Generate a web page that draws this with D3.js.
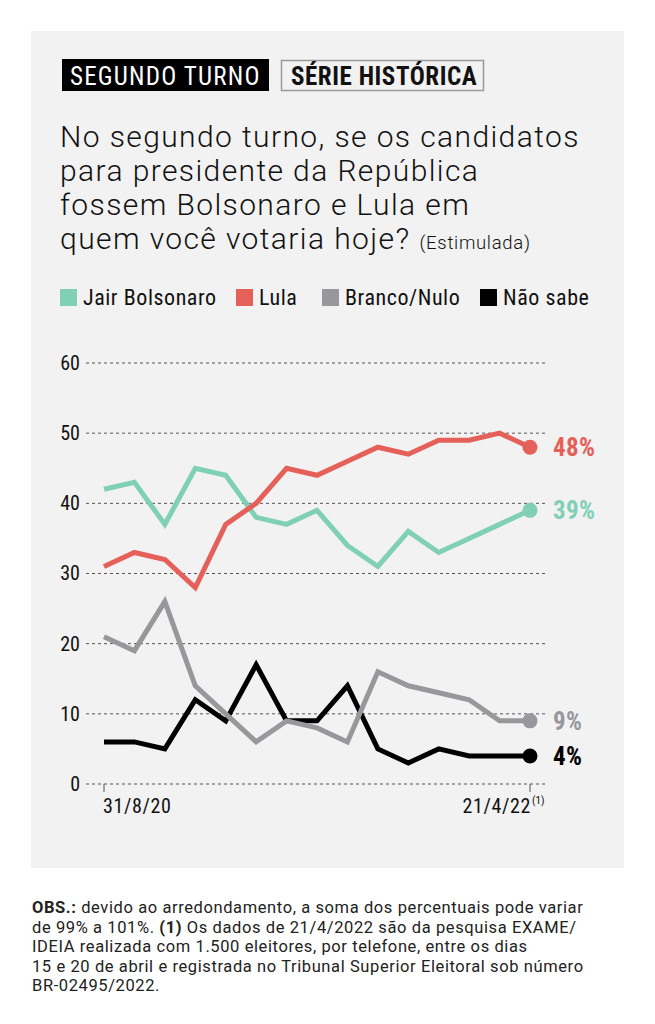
<!DOCTYPE html>
<html><head><meta charset="utf-8">
<script src="https://cdn.jsdelivr.net/npm/d3@7"></script>
<style>
html,body{margin:0;padding:0;background:#fff;}
svg{display:block;}
.cond{font-family:"Liberation Sans Narrow","Roboto Condensed","DejaVu Sans Condensed",sans-serif;}
.reg{font-family:Roboto,"Noto Sans",sans-serif;}
</style></head>
<body>
<script>
const dates = ["31/8/20","","","","","","","","","","","","","","21/4/22"];
const seriesNames = ["Jair Bolsonaro","Lula","Branco/Nulo","Não sabe"];
const bolsonaro = [42,43,37,45,44,38,37,39,34,31,36,33,35,37,39];
const lula      = [31,33,32,28,37,40,45,44,46,48,47,49,49,50,48];
const branco    = [21,19,26,14,10,6,9,8,6,16,14,13,12,9,9];
const naoSabe   = [6,6,5,12,9,17,9,9,14,5,3,5,4,4,4];
const colors = ["#80d0b5","#e6605a","#98989c","#000000"];
const yTicks = [0,10,20,30,40,50,60];
const titleLines = ["No segundo turno, se os candidatos","para presidente da República","fossem Bolsonaro e Lula em","quem você votaria hoje?"];
const footLines = [
 [["OBS.:",true],[" devido ao arredondamento, a soma dos percentuais pode variar",false]],
 [["de 99% a 101%. ",false],["(1)",true],[" Os dados de 21/4/2022 são da pesquisa EXAME/",false]],
 [["IDEIA realizada com 1.500 eleitores, por telefone, entre os dias",false]],
 [["15 e 20 de abril e registrada no Tribunal Superior Eleitoral sob número",false]],
 [["BR-02495/2022.",false]]
];

const W=655,H=1024;
const svg=d3.select("body").append("svg").attr("width",W).attr("height",H);
svg.append("rect").attr("x",31).attr("y",31).attr("width",593).attr("height",837).attr("fill","#f2f2f2");

// badges
svg.append("rect").attr("x",62).attr("y",59).attr("width",207).attr("height",32).attr("fill","#000");
svg.append("text").attr("class","cond").attr("x",70).attr("y",85).attr("fill","#fff")
  .attr("font-size",25).attr("letter-spacing",1.2).text("SEGUNDO TURNO");
svg.append("rect").attr("x",281.5).attr("y",60.5).attr("width",202).attr("height",30)
  .attr("fill","none").attr("stroke","#9a9a9a").attr("stroke-width",1.5);
svg.append("text").attr("class","cond").attr("x",291).attr("y",85).attr("fill","#111")
  .attr("font-size",25).attr("font-weight",700).attr("letter-spacing",0.55).text("SÉRIE HISTÓRICA");

// title
const tt=svg.append("text").attr("class","reg").attr("fill","#111").attr("font-size",30)
  .attr("font-weight",300).attr("letter-spacing",1.4);
titleLines.forEach((l,i)=>{
  tt.append("tspan").attr("x",60).attr("y",147+i*34).text(l);
});
tt.append("tspan").attr("font-size",18.5).attr("dx",9).attr("letter-spacing",0.7).text("(Estimulada)");

// legend
const legX=[60,236,322,480];
seriesNames.forEach((n,i)=>{
  svg.append("rect").attr("x",legX[i]).attr("y",289).attr("width",17).attr("height",17).attr("fill",colors[i]);
  svg.append("text").attr("class","cond").attr("x",legX[i]+23).attr("y",305).attr("font-size",22)
    .attr("letter-spacing",0.55).attr("fill","#111").text(n);
});

// chart
const x=d3.scaleLinear().domain([0,dates.length-1]).range([104,530]);
const y=d3.scaleLinear().domain([0,60]).range([784,363]);
const g=svg.append("g");
const yAxis=d3.axisLeft(y).tickValues(yTicks).tickSize(0).tickPadding(6);
const ya=g.append("g").attr("transform","translate(86,0)").call(yAxis);
ya.select(".domain").remove();
ya.selectAll("text").attr("class","cond").attr("font-size",20).attr("fill","#111").attr("font-family",null);
g.selectAll("line.grid").data(yTicks).enter().append("line").attr("class","grid")
  .attr("x1",86).attr("x2",547).attr("y1",d=>y(d)).attr("y2",d=>y(d))
  .attr("stroke","#555").attr("stroke-width",1).attr("stroke-dasharray","3,3");

// x ticks
const xIdx=[0,dates.length-1];
g.selectAll("line.xt").data(xIdx).enter().append("line").attr("class","xt")
  .attr("x1",d=>x(d)).attr("x2",d=>x(d)).attr("y1",y(0)).attr("y2",y(0)+8)
  .attr("stroke","#555").attr("stroke-width",1);
g.append("text").attr("class","cond").attr("x",x(0)-1).attr("y",813).attr("font-size",20)
  .attr("letter-spacing",0.6).attr("fill","#111").text(dates[0]);
g.append("text").attr("class","cond").attr("x",x(dates.length-1)+1).attr("y",813).attr("font-size",20)
  .attr("letter-spacing",0.6).attr("fill","#111").attr("text-anchor","end").text(dates[dates.length-1]);
g.append("text").attr("class","cond").attr("x",x(dates.length-1)+2).attr("y",804).attr("font-size",11).attr("fill","#111").text("(1)");

const data=[bolsonaro,lula,naoSabe,branco];
const cols=[colors[0],colors[1],colors[3],colors[2]];
const line=d3.line().x((d,i)=>x(i)).y(d=>y(d));
data.forEach((s,k)=>{
  g.append("path").attr("d",line(s)).attr("fill","none").attr("stroke",cols[k])
   .attr("stroke-width",5).attr("stroke-linejoin","miter");
  const li=s.length-1;
  g.append("circle").attr("cx",x(li)).attr("cy",y(s[li])).attr("r",7.5).attr("fill",cols[k]);
  g.append("text").attr("class","cond").attr("x",553).attr("y",y(s[li])+9).attr("font-size",25)
   .attr("letter-spacing",0.4).attr("font-weight",700).attr("fill",cols[k]).text(s[li]+"%");
});

// footer
footLines.forEach((parts,i)=>{
  const t=svg.append("text").attr("class","reg").attr("x",32).attr("y",913+i*19.5).attr("font-size",16.5)
    .attr("letter-spacing",0.6).attr("fill","#222");
  parts.forEach(p=>t.append("tspan").attr("font-weight",p[1]?700:400).text(p[0]));
});
</script>
</body></html>
